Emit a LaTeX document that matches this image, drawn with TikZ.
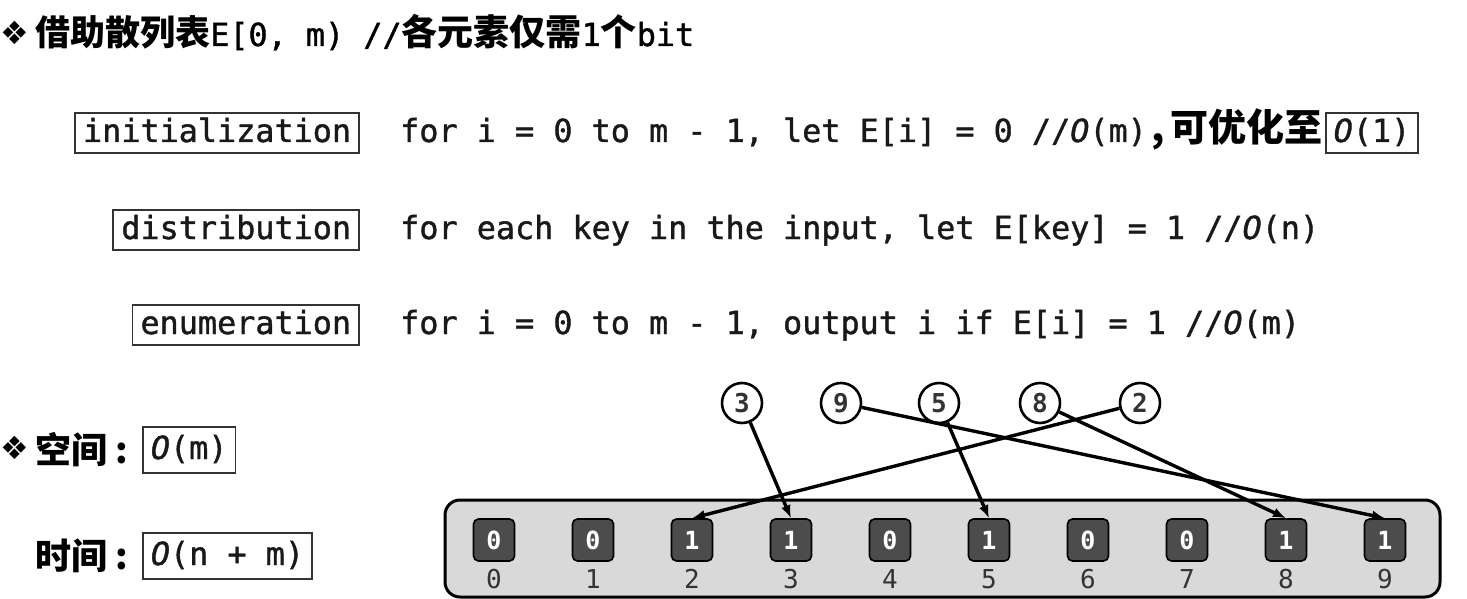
\documentclass[tikz,border=0pt]{standalone}
\usepackage{fontspec}
\setmonofont{DejaVu Sans Mono}
\newfontfamily\codefont[FakeBold=1.2]{DejaVu Sans Mono}
\newfontfamily\cjk{Noto Sans CJK SC}
\newfontfamily\symb{DejaVu Sans}
\usetikzlibrary{arrows.meta,positioning}
\newcommand{\bigO}{{\itshape O}}
\newcommand{\mono}{\codefont\fontsize{31.8}{36}\selectfont}

\tikzset{
  code/.style={font=\mono, inner sep=0pt, anchor=base west, text=black!90},
  tag/.style={draw=black!80, line width=1.8pt, font=\mono, text=black!90,
    inner xsep=8pt, inner ysep=6pt, text height=23pt, text depth=5pt},
  bitcell/.style={draw=black, line width=1.6pt, fill=black!70, rounded corners=5pt,
    minimum width=41pt, minimum height=42pt, inner sep=0pt, text=white!92,
    font=\ttfamily\bfseries\fontsize{25}{25}\selectfont},
  idx/.style={font=\ttfamily\fontsize{26}{26}\selectfont, text=black!80},
  key/.style={draw=black, circle, line width=2.6pt, fill=white, minimum size=40pt,
    inner sep=0pt, text=black!80, font=\ttfamily\bfseries\fontsize{26}{26}\selectfont},
  hit/.style={line width=3.4pt, -{Latex[length=13pt,width=10pt]}}
}

\begin{document}
\begin{tikzpicture}[x=1pt,y=-1pt]
\useasboundingbox (0,0) rectangle (1467,599);

% header
\node[font=\symb\fontsize{32}{32}\selectfont, inner sep=0pt] (dia1) at (15,33) {❖};
\node[anchor=base west, inner sep=0pt] (head) at (35,46)
  {{\cjk\bfseries\fontsize{35}{35}\selectfont 借助散列表}{\mono E[0, m) //}{\cjk\bfseries\fontsize{36}{36}\selectfont 各元素仅需}{\mono 1}{\cjk\bfseries\fontsize{36}{36}\selectfont 个}{\mono bit}};

% three phases
\node[tag, anchor=base east] (init) at (360,142) {initialization};
\node[code] (initcode) at (400,142) {for i = 0 to m - 1, let E[i] = 0 //\bigO(m)};
\node[inner sep=0pt, anchor=base west, font=\cjk\bfseries\fontsize{38}{38}\selectfont] (opt) at (initcode.base east) {\hspace{4pt},\hspace{6pt}可优化至};
\node[tag, base right=2pt of opt] (o1) {\bigO(1)};

\node[tag, anchor=base east] (dist) at (360,239) {distribution};
\node[code] (distcode) at (400,239) {for each key in the input, let E[key] = 1 //\bigO(n)};

\node[tag, anchor=base east] (enum) at (360,334) {enumeration};
\node[code] (enumcode) at (400,334) {for i = 0 to m - 1, output i if E[i] = 1 //\bigO(m)};

% space and time
\node[font=\symb\fontsize{32}{32}\selectfont, inner sep=0pt] (dia2) at (15,448) {❖};
\node[anchor=base west, inner sep=0pt, font=\cjk\bfseries\fontsize{36}{36}\selectfont] (space) at (35,463) {空间\hspace{8pt}:};
\node[tag, inner ysep=9pt, anchor=base west] (om) at (142,459) {\bigO(m)};
\node[anchor=base west, inner sep=0pt, font=\cjk\bfseries\fontsize{36}{36}\selectfont] (time) at (35,569) {时间\hspace{8pt}:};
\node[tag, inner ysep=9pt, anchor=base west] (onm) at (142,565) {\bigO(n + m)};

% bit vector E
\draw[line width=3pt, fill=black!15, rounded corners=15pt] (445,500) rectangle (1440,597);
\foreach \v [count=\i from 0] in {0,0,1,1,0,1,0,0,1,1} {
  \node[bitcell] (e\i) at (494+99*\i,540) {\v};
  \node[idx] (n\i) at (494+99*\i,579) {\i};
}

% input keys
\foreach \k/\x in {3/742, 9/841, 5/939, 8/1040, 2/1140}
  \node[key] (k\k) at (\x,403) {\k};
\foreach \k in {3,9,5,8,2}
  \draw[hit] (k\k) -- (e\k.north);
\end{tikzpicture}
\end{document}
